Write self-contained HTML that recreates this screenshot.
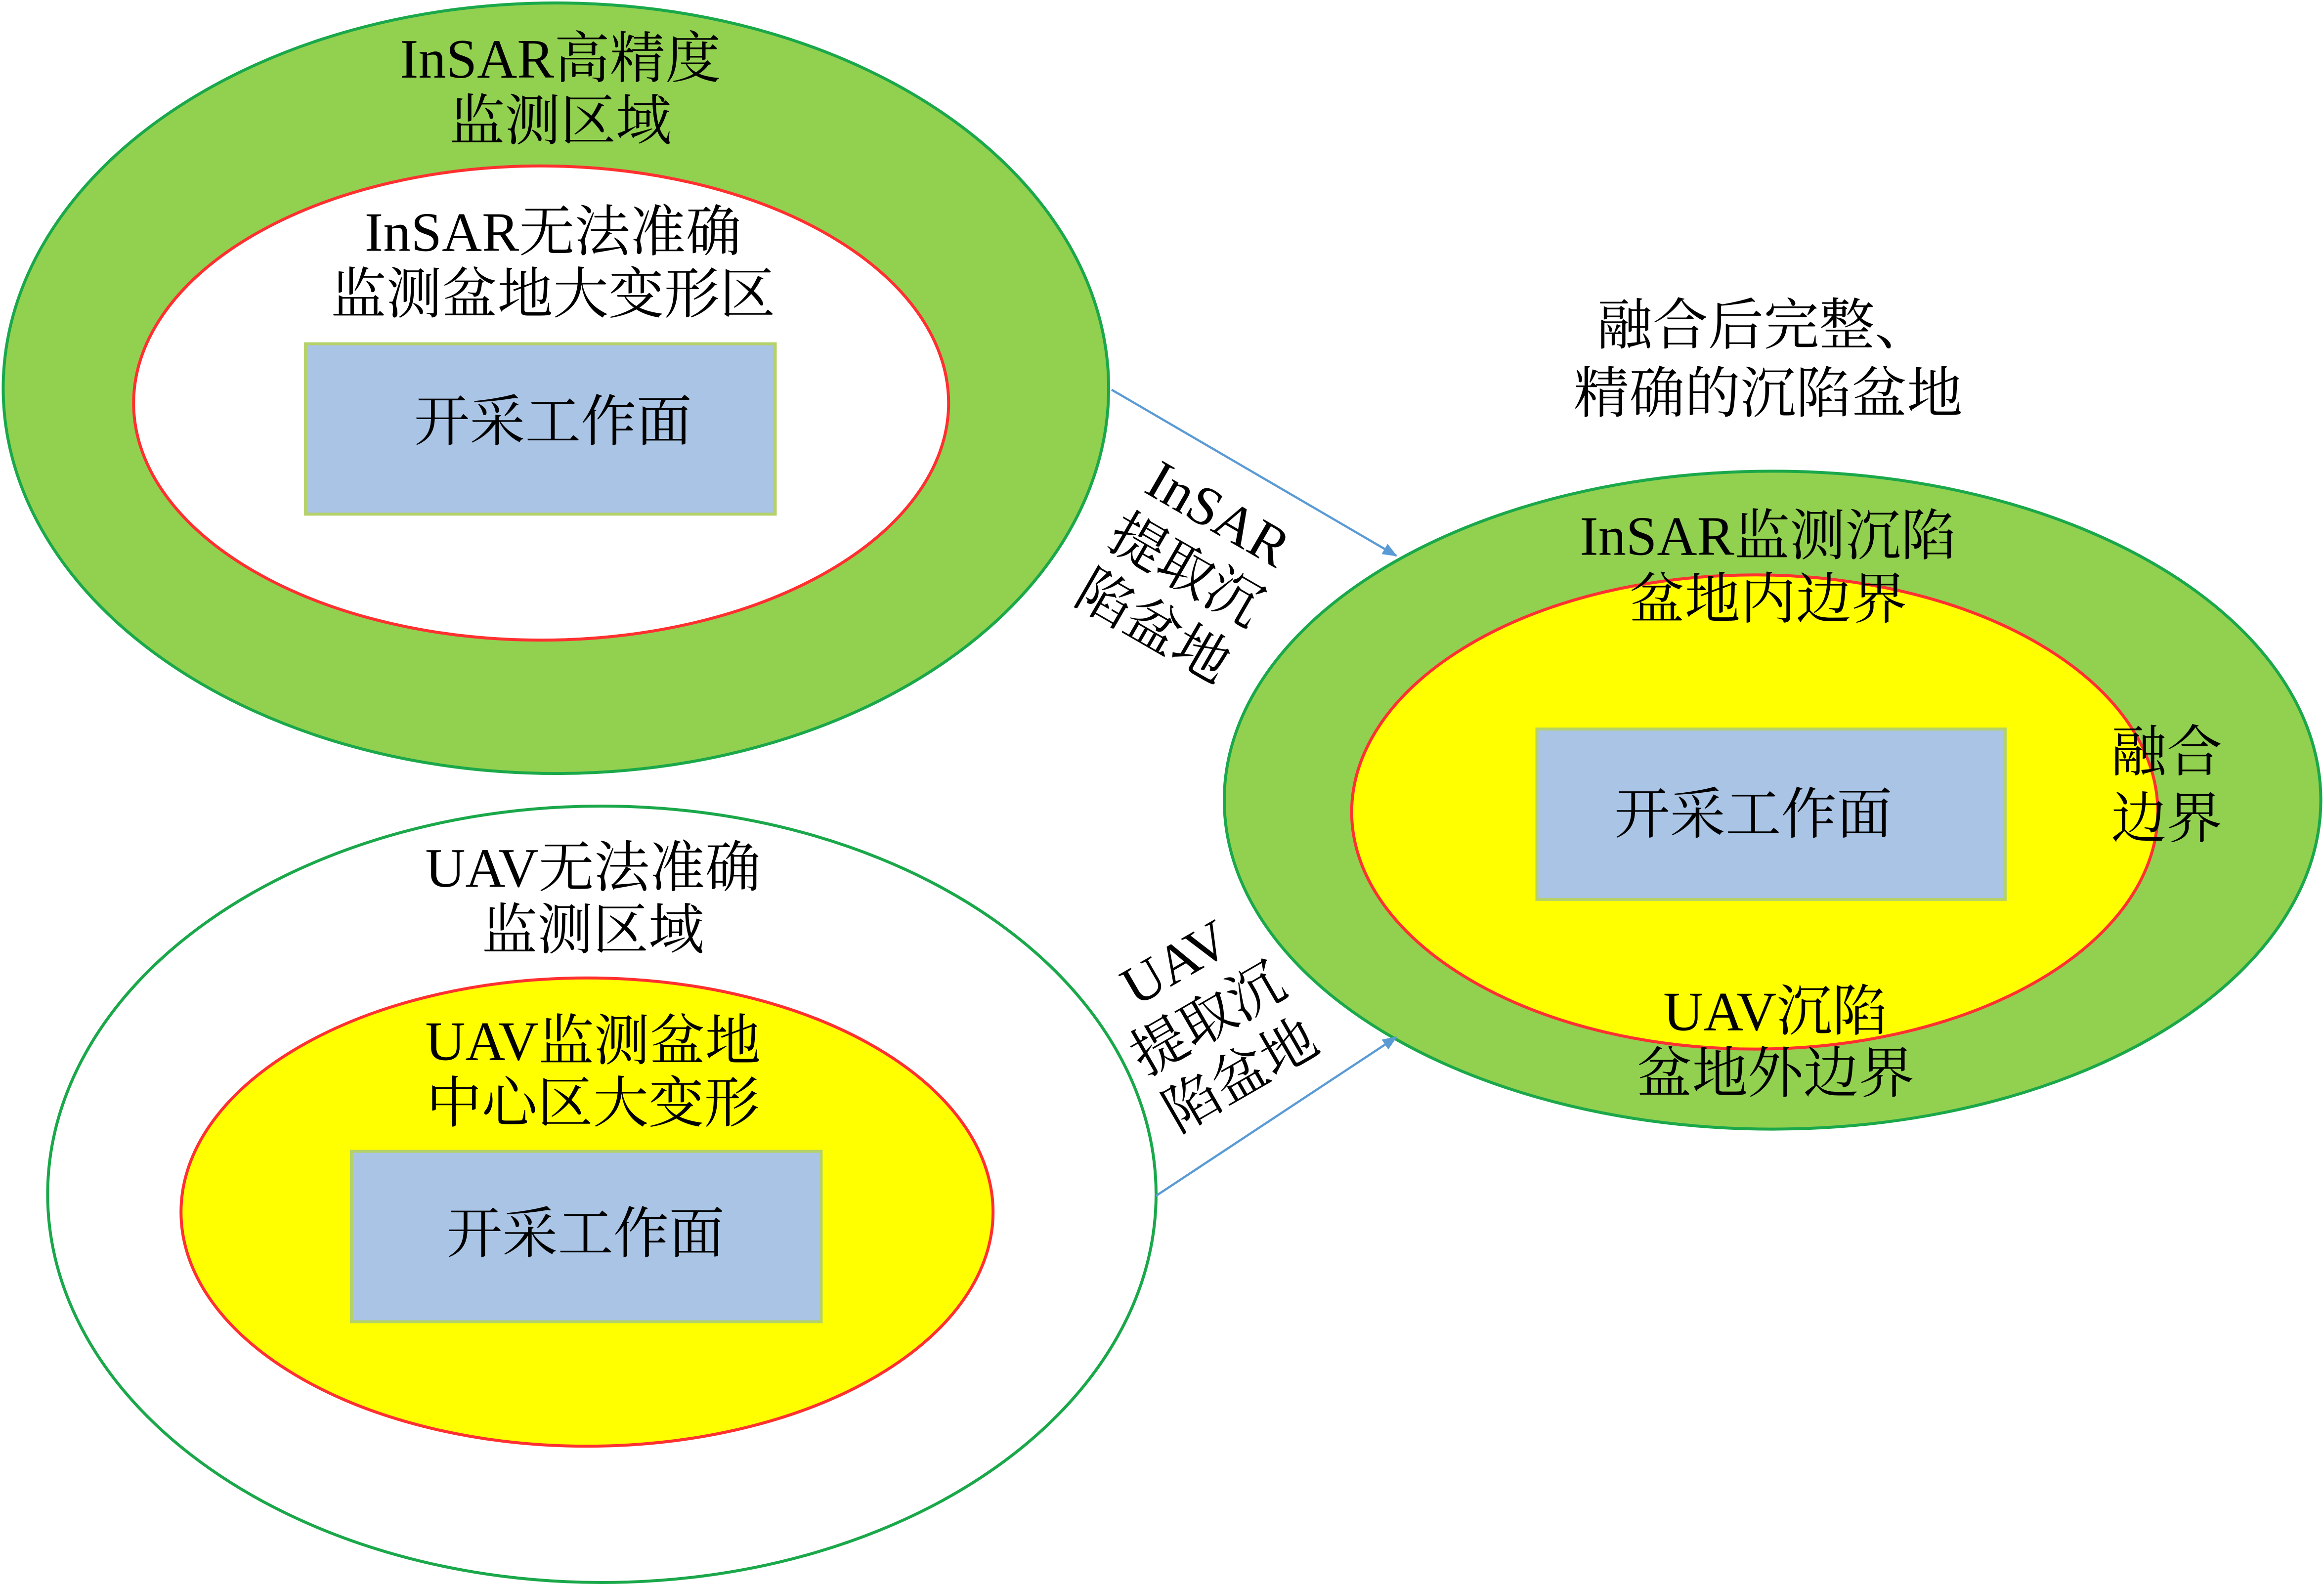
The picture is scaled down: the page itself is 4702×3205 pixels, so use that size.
<!DOCTYPE html>
<html><head><meta charset="utf-8"><style>
html,body{margin:0;padding:0;background:#fff;}
svg{display:block;}
text{font-family:"Liberation Serif","Noto Serif CJK SC",serif;font-size:37.5px;fill:#000;text-anchor:middle;dominant-baseline:central;}
</style></head><body>
<svg width="4702" height="3205" viewBox="0 0 1568 1069" xmlns="http://www.w3.org/2000/svg">
<defs><marker id="a" markerWidth="10" markerHeight="8" refX="9" refY="4" orient="auto" markerUnits="userSpaceOnUse"><path d="M0,0 L10,4 L0,8 z" fill="#5b9bd5"/></marker></defs>
<ellipse cx="375" cy="262" rx="373" ry="260" fill="#92d050" stroke="#1aa84a" stroke-width="2"/>
<ellipse cx="365" cy="272" rx="275" ry="160" fill="#fff" stroke="#ff3030" stroke-width="2"/>
<rect x="206" y="232" width="317" height="115" fill="#a9c4e4" stroke="#b5d16a" stroke-width="2"/>
<text x="378" y="40">InSAR高精度</text>
<text x="378" y="82">监测区域</text>
<text x="373" y="157">InSAR无法准确</text>
<text x="373" y="199">监测盆地大变形区</text>
<text x="373" y="285">开采工作面</text>
<ellipse cx="406" cy="806" rx="374" ry="262" fill="#fff" stroke="#1aa84a" stroke-width="2"/>
<ellipse cx="396" cy="818" rx="274" ry="158" fill="#ffff00" stroke="#ff3030" stroke-width="2"/>
<rect x="237" y="777" width="317" height="115" fill="#a9c4e4" stroke="#b5d16a" stroke-width="2"/>
<text x="400" y="586">UAV无法准确</text>
<text x="400" y="628">监测区域</text>
<text x="400" y="703">UAV监测盆地</text>
<text x="400" y="745">中心区大变形</text>
<text x="395" y="833">开采工作面</text>
<ellipse cx="1196" cy="540" rx="370" ry="222" fill="#92d050" stroke="#1aa84a" stroke-width="2"/>
<ellipse cx="1184" cy="548" rx="272" ry="160" fill="#ffff00" stroke="#ff3030" stroke-width="2"/>
<rect x="1037" y="492" width="316" height="115" fill="#a9c4e4" stroke="#b5d16a" stroke-width="2"/>
<text x="1190" y="220">融合后完整、</text>
<text x="1193" y="266">精确的沉陷盆地</text>
<text x="1193" y="362">InSAR监测沉陷</text>
<text x="1193" y="405">盆地内边界</text>
<text x="1183" y="550">开采工作面</text>
<text x="1462" y="508">融合</text>
<text x="1462" y="553">边界</text>
<text x="1198" y="683">UAV沉陷</text>
<text x="1198" y="725">盆地外边界</text>
<line x1="750" y1="263" x2="942" y2="375" stroke="#5b9bd5" stroke-width="1.5" marker-end="url(#a)"/>
<line x1="780" y1="807" x2="942" y2="700" stroke="#5b9bd5" stroke-width="1.5" marker-end="url(#a)"/>
<g transform="rotate(30 800 385)">
<text x="800" y="341">InSAR</text>
<text x="800" y="385">提取沉</text>
<text x="800" y="429">陷盆地</text>
</g>
<g transform="rotate(-30 815 688)">
<text x="815" y="644">UAV</text>
<text x="815" y="688">提取沉</text>
<text x="815" y="732">陷盆地</text>
</g>
</svg>
</body></html>
